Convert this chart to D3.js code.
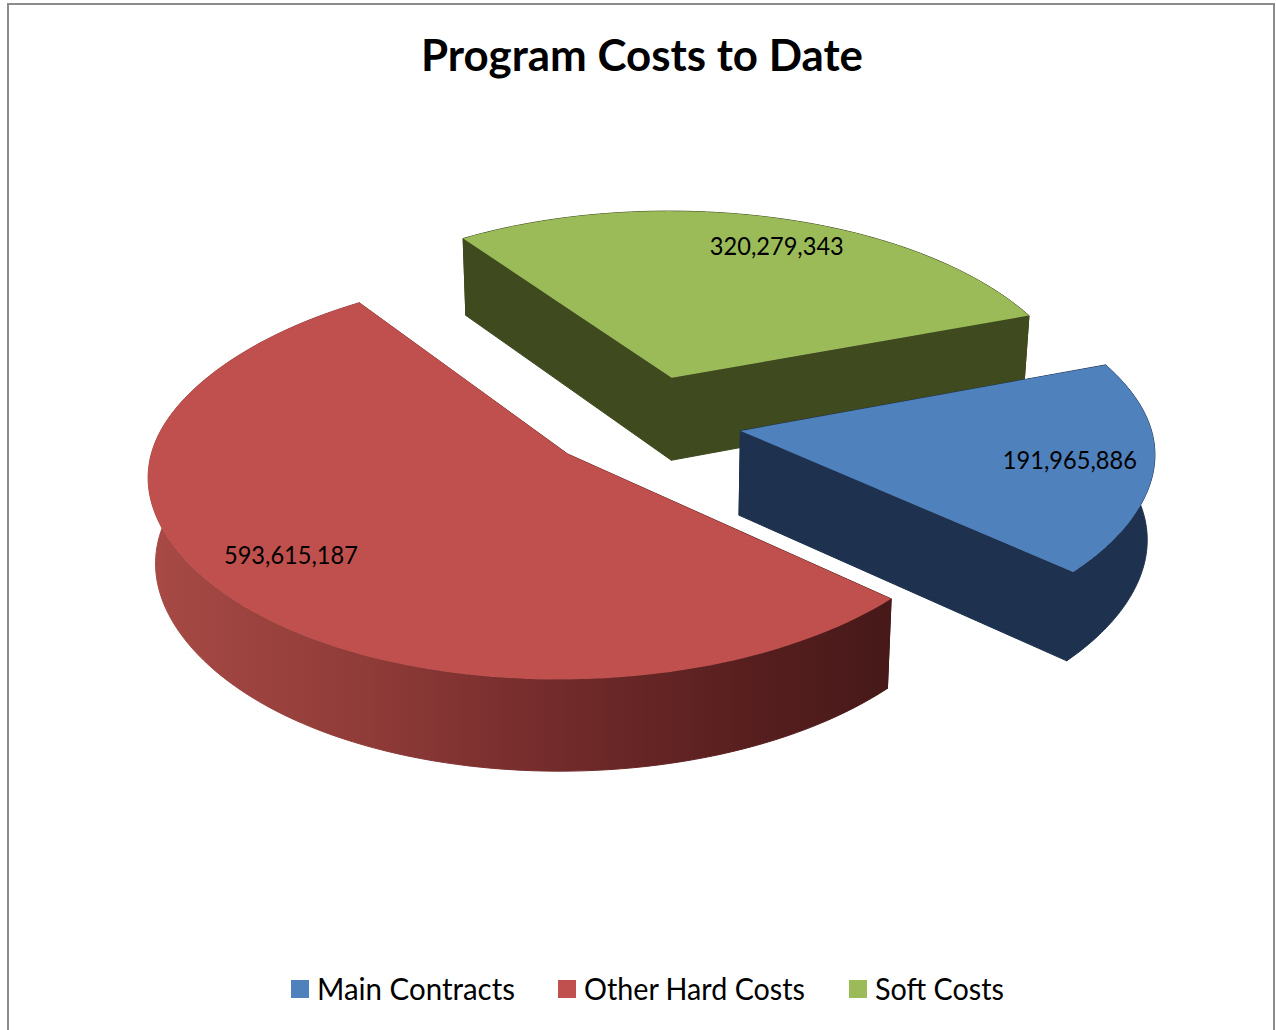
<!DOCTYPE html>
<html>
<head>
<meta charset="utf-8">
<title>Program Costs to Date</title>
<script src="https://cdn.jsdelivr.net/npm/d3@7"></script>
<style>
  html, body { margin: 0; padding: 0; background: #fff; overflow: hidden; }
  text { font-family: Lato, "Open Sans", sans-serif; fill: #000; }
</style>
</head>
<body>
<div id="chart"></div>
<script>
const chartTitle = "Program Costs to Date";
const categories = ["Main Contracts", "Other Hard Costs", "Soft Costs"];
const costs = [191965886, 593615187, 320279343];
const topColors = ["#4F81BD", "#C0504D", "#9BBB59"];
const wallColors = ["#1E324F", "url(#red-wall)", "#3F4A1F"];

const width = 1276;
const height = 1030;

// pie geometry
const centerX = 643;
const centerY = 422;
const radiusX = 403;
const radiusY = 193.7;
const sideBulge = 0.015; // the rim is a bit fuller at the left and right extremes
const perspective = 0.108;
const explode = 0.245;
const thickness = 84;
const firstAngle = (69.5 * Math.PI) / 180;
const labelRadius = [0.8, 0.79, 0.82];
const labelTurn = [0, 4, 3.7]; // degrees, labels are not quite on the mid angle

const svg = d3
  .select("#chart")
  .append("svg")
  .attr("width", width)
  .attr("height", height);

const redWall = svg
  .append("defs")
  .append("linearGradient")
  .attr("id", "red-wall")
  .attr("gradientUnits", "userSpaceOnUse")
  .attr("x1", 148)
  .attr("x2", 887)
  .attr("y1", 0)
  .attr("y2", 0);

[
  [0, "#A84A45"],
  [0.3, "#8F3B38"],
  [0.55, "#732B2B"],
  [0.8, "#591F1F"],
  [1, "#471919"],
].forEach(([offset, color]) => {
  redWall.append("stop").attr("offset", offset).attr("stop-color", color);
});

// chart frame
svg
  .append("path")
  .attr("fill", "none")
  .attr("stroke", "#8C8C8C")
  .attr("stroke-width", 2)
  .attr(
    "d",
    d3.line()([
      [8, height],
      [8, 4],
      [1274, 4],
      [1274, height],
    ])
  );

svg
  .append("text")
  .attr("x", 642)
  .attr("y", 71)
  .attr("text-anchor", "middle")
  .attr("font-size", 44)
  .attr("font-weight", 700)
  .attr("textLength", 442)
  .attr("lengthAdjust", "spacingAndGlyphs")
  .text(chartTitle);

const slices = d3
  .pie()
  .sort(null)
  .startAngle(firstAngle)
  .endAngle(firstAngle + 2 * Math.PI)(costs);

slices.forEach((slice) => {
  slice.mid = (slice.startAngle + slice.endAngle) / 2;
});

// position in the pie plane, unit radius, depth grows towards the viewer
const planePoint = (slice, angle, r) => ({
  across:
    explode * Math.sin(slice.mid) +
    r * Math.sin(angle) * (1 + sideBulge * Math.pow(Math.sin(angle), 8)),
  depth: -explode * Math.cos(slice.mid) - r * Math.cos(angle),
});

const topPoint = (slice, angle, r) => {
  const { across, depth } = planePoint(slice, angle, r);
  const s = 1 / (1 - perspective * depth);
  return [centerX + radiusX * across * s, centerY + radiusY * depth * s];
};

// same point dropped to the bottom face
const bottomPoint = (slice, angle, r) => {
  const [x, y] = topPoint(slice, angle, r);
  const { depth } = planePoint(slice, angle, r);
  return [
    centerX + (x - centerX) * 0.985,
    y + thickness * (1 + 0.08 * depth),
  ];
};

const arcAngles = (slice) =>
  d3.range(0, 121).map(
    (i) => slice.startAngle + ((slice.endAngle - slice.startAngle) * i) / 120
  );

const closedLine = d3.line().curve(d3.curveLinearClosed);

const drawSlice = (slice) => {
  const g = svg.append("g").attr("class", "slice");
  const angles = arcAngles(slice);
  const wall = wallColors[slice.index];

  [slice.startAngle, slice.endAngle].forEach((angle) => {
    g.append("path")
      .attr("fill", wall)
      .attr("stroke", wall)
      .attr("stroke-width", 1)
      .attr(
        "d",
        closedLine([
          topPoint(slice, angle, 0),
          topPoint(slice, angle, 1),
          bottomPoint(slice, angle, 1),
          bottomPoint(slice, angle, 0),
        ])
      );
  });

  g.append("path")
    .attr("fill", wall)
    .attr("stroke", wall)
    .attr("stroke-width", 1)
    .attr(
      "d",
      closedLine(
        angles
          .map((a) => topPoint(slice, a, 1))
          .concat(angles.slice().reverse().map((a) => bottomPoint(slice, a, 1)))
      )
    );

  g.append("path")
    .attr("fill", topColors[slice.index])
    .attr(
      "d",
      closedLine([topPoint(slice, 0, 0)].concat(angles.map((a) => topPoint(slice, a, 1))))
    );
};

// back slice first, the red one sits in front
[slices[2], slices[0], slices[1]].forEach(drawSlice);

slices.forEach((slice) => {
  const angle = slice.mid + (labelTurn[slice.index] * Math.PI) / 180;
  const [x, y] = topPoint(slice, angle, labelRadius[slice.index]);
  svg
    .append("text")
    .attr("x", x)
    .attr("y", y + 8)
    .attr("text-anchor", "middle")
    .attr("font-size", 25)
    .attr("textLength", 134)
    .attr("lengthAdjust", "spacingAndGlyphs")
    .text(d3.format(",")(slice.value));
});

// legend
const legendX = [291, 558, 849];
const legendTextW = [198, 221, 129];

const legend = svg
  .selectAll(".legend")
  .data(categories)
  .enter()
  .append("g")
  .attr("class", "legend")
  .attr("transform", (_, i) => `translate(${legendX[i]}, 980)`);

legend
  .append("rect")
  .attr("width", 18)
  .attr("height", 18)
  .attr("fill", (_, i) => topColors[i]);

legend
  .append("text")
  .attr("x", 26)
  .attr("y", 20)
  .attr("font-size", 31)
  .attr("textLength", (_, i) => legendTextW[i])
  .attr("lengthAdjust", "spacingAndGlyphs")
  .text((d) => d);
</script>
</body>
</html>
